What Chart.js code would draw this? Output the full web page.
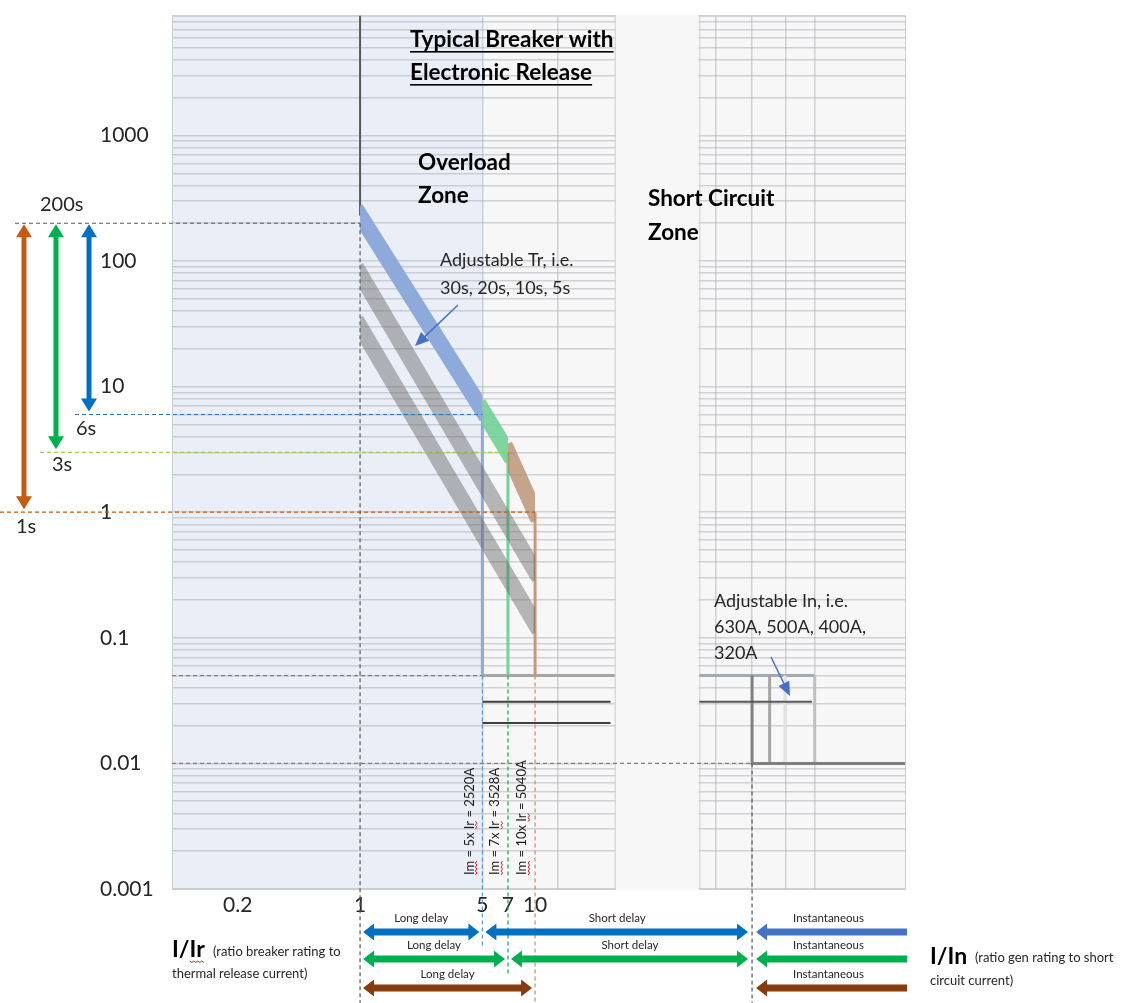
<!DOCTYPE html>
<html>
<head>
<meta charset="utf-8">
<script src="https://cdn.jsdelivr.net/npm/chart.js@4.4.0/dist/chart.umd.min.js"></script>
<style>
  html, body { margin: 0; padding: 0; background: #fff; }
  #wrap { width: 1122px; height: 1003px; position: relative; }
</style>
</head>
<body>
<div id="wrap"><canvas id="myChart"></canvas></div>
<script>
// axis ticks
var xTicks = [0.2, 1, 5, 7, 10];          // I/Ir
var x2Ticks = [5, 7, 10, 30, 70];         // I/In
var yTicks = [0.001, 0.01, 0.1, 1, 10, 100, 1000];
var xGrid = [5, 13.5];
var x2Grid = [6.2, 10, 15.6, 22.9];

// long delay curve (I/Ir -> seconds)
var ldI = [1, 5, 7, 10];
var ldT = [230, 6.5, 3, 1];
// other Tr settings
var trI = [1, 10];
var trT1 = [79, 0.34];
var trT2 = [30, 0.13];

// short delay levels (s) and where they stop (I/Ir)
var sdT = [0.05, 0.031, 0.021];
var sdEnd = [28.5, 27, 27];

// instantaneous (I/In)
var inStart = 5;
var inI = [10, 12.6, 15.4, 22.8];
var inT = [0.05, 0.031, 0.01];
var inEnd = [22.8, 22];

// settings shown by the arrows on the left
var setT = [200, 6, 3, 1];
var setLabel = ['200s', '6s', '3s', '1s'];

var xMin = 0.0842, xMax = 1300;
var x2Min = 0.00485, x2Max = 74.8;
var yMin = 0.001, yMax = 9000;

var FONT = 'Lato, "Open Sans", "DejaVu Sans", sans-serif';
var gridColor = 'rgba(160,162,168,0.45)';
Chart.defaults.font.family = FONT;

function line(xs, ys, color, width, more) {
  var ds = {
    data: xs.map(function (v, i) { return { x: v, y: ys[i] }; }),
    borderColor: color, borderWidth: width, showLine: true,
    pointRadius: 0, fill: false, tension: 0
  };
  for (var k in more) ds[k] = more[k];
  return ds;
}

var datasets = [
  line([ldI[0], ldI[0]], [yMax, ldT[0]], '#595959', 2, { order: 9 }),
  line(trI, trT1, 'rgba(100,100,100,0.45)', 16, { borderCapStyle: 'square', clipX: [trI[0], trI[1]], order: 6 }),
  line(trI, trT2, 'rgba(100,100,100,0.45)', 16, { borderCapStyle: 'square', clipX: [trI[0], trI[1]], order: 6 }),
  line(ldI.slice(0, 2), ldT.slice(0, 2), '#8eaadb', 16, { borderCapStyle: 'square', clipX: [ldI[0], ldI[1]], order: 3 }),
  line(ldI.slice(1, 3), ldT.slice(1, 3), 'rgba(112,208,150,0.9)', 16, { borderCapStyle: 'square', clipX: [ldI[1], ldI[2]], order: 3 }),
  line(ldI.slice(2, 4), ldT.slice(2, 4), 'rgba(178,132,98,0.72)', 16, { borderCapStyle: 'square', clipX: [ldI[2], ldI[3]], order: 3 }),
  line([ldI[1], ldI[1]], [ldT[1], sdT[0]], '#8eaadb', 3, { order: 7 }),
  line([ldI[2], ldI[2]], [ldT[2], sdT[0]], '#6fd39b', 3, { order: 7 }),
  line([ldI[3], ldI[3]], [ldT[3], sdT[0]], '#c49a7c', 3, { order: 7 }),
  line([ldI[1], sdEnd[0]], [sdT[0], sdT[0]], '#a6a6a6', 3, { order: 8 }),
  line([ldI[1], sdEnd[1]], [sdT[1], sdT[1]], '#404040', 2, { order: 8 }),
  line([ldI[1], sdEnd[2]], [sdT[2], sdT[2]], '#404040', 2, { order: 8 }),
  // short circuit zone
  line([inStart, inI[3]], [inT[0], inT[0]], '#a3aab2', 3, { xAxisID: 'x2', order: 8 }),
  line([inStart, inEnd[1]], [inT[1], inT[1]], '#595959', 2, { xAxisID: 'x2', order: 4 }),
  line([inI[3], inI[3]], [inT[0], inT[2]], '#bfbfbf', 3, { xAxisID: 'x2', order: 7 }),
  line([inI[2], inI[2]], [inT[0], inT[2]], '#e2e2e2', 3, { xAxisID: 'x2', order: 7 }),
  line([inI[1], inI[1]], [inT[0], inT[2]], '#a6a6a6', 3, { xAxisID: 'x2', order: 6 }),
  line([inI[0], inI[0], x2Max], [inT[0], inT[2], inT[2]], '#7f7f7f', 3, { xAxisID: 'x2', order: 5 })
];

function dash(ctx, x1, y1, x2, y2, color) {
  ctx.save();
  ctx.strokeStyle = color; ctx.lineWidth = 1.2; ctx.setLineDash([4, 3]);
  ctx.beginPath(); ctx.moveTo(x1, y1); ctx.lineTo(x2, y2); ctx.stroke();
  ctx.restore();
}

function txt(ctx, s, x, y, size, weight, color, align) {
  ctx.font = (weight || 'normal') + ' ' + size + 'px ' + FONT;
  ctx.fillStyle = color || '#262626';
  ctx.textAlign = align || 'left';
  ctx.textBaseline = 'alphabetic';
  ctx.fillText(s, x, y);
  return ctx.measureText(s).width;
}

function under(ctx, s, x, y, size) {
  var w = txt(ctx, s, x, y, size, 'bold', '#000');
  ctx.fillStyle = '#000';
  ctx.fillRect(x, y + 4, w, 1.6);
}

function squiggle(ctx, x, y, w) {
  ctx.save();
  ctx.strokeStyle = '#e02020'; ctx.lineWidth = 1;
  ctx.beginPath(); ctx.moveTo(x, y);
  for (var i = 2; i <= w; i += 2) ctx.lineTo(x + i, y + ((i / 2) % 2 ? 1.5 : 0));
  ctx.stroke();
  ctx.restore();
}

function vArrow(ctx, x, y1, y2, color) {
  ctx.save();
  ctx.fillStyle = color;
  ctx.fillRect(x - 2.5, y1 + 10, 5, y2 - y1 - 20);
  ctx.beginPath();
  ctx.moveTo(x, y1); ctx.lineTo(x - 8, y1 + 13); ctx.lineTo(x + 8, y1 + 13); ctx.closePath();
  ctx.moveTo(x, y2); ctx.lineTo(x - 8, y2 - 13); ctx.lineTo(x + 8, y2 - 13); ctx.closePath();
  ctx.fill();
  ctx.restore();
}

function hArrow(ctx, x1, x2, y, color, headL, headR) {
  ctx.save();
  ctx.fillStyle = color;
  var a = headL ? x1 + 9 : x1, b = headR ? x2 - 9 : x2;
  ctx.fillRect(a, y - 3.5, b - a, 7);
  ctx.beginPath();
  if (headL) { ctx.moveTo(x1, y); ctx.lineTo(x1 + 11, y - 8.5); ctx.lineTo(x1 + 11, y + 8.5); ctx.closePath(); }
  if (headR) { ctx.moveTo(x2, y); ctx.lineTo(x2 - 11, y - 8.5); ctx.lineTo(x2 - 11, y + 8.5); ctx.closePath(); }
  ctx.fill();
  ctx.restore();
}

function pointer(ctx, x1, y1, x2, y2, color) {
  var ang = Math.atan2(y2 - y1, x2 - x1);
  ctx.save();
  ctx.strokeStyle = color; ctx.fillStyle = color; ctx.lineWidth = 1.5;
  ctx.beginPath(); ctx.moveTo(x1, y1);
  ctx.lineTo(x2 - 10 * Math.cos(ang), y2 - 10 * Math.sin(ang)); ctx.stroke();
  ctx.beginPath(); ctx.moveTo(x2, y2);
  ctx.lineTo(x2 - 14 * Math.cos(ang) + 6 * Math.sin(ang), y2 - 14 * Math.sin(ang) - 6 * Math.cos(ang));
  ctx.lineTo(x2 - 14 * Math.cos(ang) - 6 * Math.sin(ang), y2 - 14 * Math.sin(ang) + 6 * Math.cos(ang));
  ctx.closePath(); ctx.fill();
  ctx.restore();
}

var zones = {
  id: 'zones',
  beforeDraw: function (chart) {
    var ctx = chart.ctx, a = chart.chartArea, xs = chart.scales.x;
    ctx.save();
    ctx.fillStyle = '#f7f7f7';
    ctx.fillRect(a.left, a.top, a.right - a.left, a.bottom - a.top);
    ctx.fillStyle = '#e9eef7';
    ctx.fillRect(a.left, a.top, xs.getPixelForValue(ldI[1]) - a.left, a.bottom - a.top);
    ctx.restore();
  },
  beforeDatasetsDraw: function (chart) {
    var ctx = chart.ctx, a = chart.chartArea;
    var l = chart.scales.x.getPixelForValue(sdEnd[0]);
    var r = chart.scales.x2.getPixelForValue(inStart);
    ctx.save();
    ctx.fillStyle = '#f7f7f7';
    ctx.fillRect(l + 1, a.top - 1, r - l - 2, a.bottom - a.top + 2);
    ctx.strokeStyle = '#cdcdcd'; ctx.lineWidth = 1;
    ctx.strokeRect(a.left + 0.5, a.top + 0.5, l - a.left, a.bottom - a.top);
    ctx.strokeRect(r + 0.5, a.top + 0.5, a.right - r, a.bottom - a.top);
    ctx.restore();
  },
  beforeDatasetDraw: function (chart, args) {
    var ds = chart.data.datasets[args.index];
    if (!ds.clipX) return;
    var xs = chart.scales[ds.xAxisID || 'x'], a = chart.chartArea, ctx = chart.ctx;
    var p = xs.getPixelForValue(ds.clipX[0]), q = xs.getPixelForValue(ds.clipX[1]);
    ctx.save();
    ctx.beginPath(); ctx.rect(p, a.top, q - p, a.bottom - a.top); ctx.clip();
  },
  afterDatasetDraw: function (chart, args) {
    if (chart.data.datasets[args.index].clipX) chart.ctx.restore();
  },
  afterDatasetsDraw: function (chart) {
    var ctx = chart.ctx, a = chart.chartArea;
    var xs = chart.scales.x, x2s = chart.scales.x2, ys = chart.scales.y;
    function px(v) { return xs.getPixelForValue(v); }
    function px2(v) { return x2s.getPixelForValue(v); }
    function py(v) { return ys.getPixelForValue(v); }
    var H = chart.height;

    // guides from the Tr settings
    var gColor = ['#595959', '#2e75b6', '#92d050', '#c55a11'];
    var gStart = [15, 75, 40, 0];
    var gEnd = [ldI[0], ldI[1], ldI[2], ldI[3]];
    for (var i = 0; i < setT.length; i++) dash(ctx, gStart[i], py(setT[i]), px(gEnd[i]), py(setT[i]), gColor[i]);
    dash(ctx, a.left, py(sdT[0]), px(ldI[1]), py(sdT[0]), '#7f7f7f');
    dash(ctx, a.left, py(inT[2]), px2(inI[0]), py(inT[2]), '#7f7f7f');
    dash(ctx, px(ldI[0]), py(setT[0]), px(ldI[0]), H, '#595959');
    dash(ctx, px(ldI[1]), py(sdT[0]), px(ldI[1]), 948, '#5b9bd5');
    dash(ctx, px(ldI[2]), py(sdT[0]), px(ldI[2]), 975, '#00b050');
    dash(ctx, px(ldI[3]), py(sdT[0]), px(ldI[3]), H, '#c0906c');
    dash(ctx, px2(inI[0]), py(inT[2]), px2(inI[0]), H, '#595959');

    // setting arrows on the left
    vArrow(ctx, 24, py(setT[0]) + 1, py(setT[3]) - 3, '#c55a11');
    vArrow(ctx, 56, py(setT[0]) + 1, py(setT[2]) - 3, '#00b050');
    vArrow(ctx, 89, py(setT[0]) + 1, py(setT[1]) - 3, '#0070c0');
    txt(ctx, setLabel[0], 40, py(setT[0]) - 12, 20);
    txt(ctx, setLabel[1], 76, py(setT[1]) + 21, 20);
    txt(ctx, setLabel[2], 52, py(setT[2]) + 19, 20);
    txt(ctx, setLabel[3], 16, py(setT[3]) + 21, 20);

    // titles
    under(ctx, 'Typical Breaker with', 410, 47, 22.5);
    under(ctx, 'Electronic Release', 410, 80, 22.5);
    txt(ctx, 'Overload', 418, 170, 22.5, 'bold', '#000');
    txt(ctx, 'Zone', 418, 203, 22.5, 'bold', '#000');
    txt(ctx, 'Short Circuit', 648, 206, 22.5, 'bold', '#000');
    txt(ctx, 'Zone', 648, 240, 22.5, 'bold', '#000');

    txt(ctx, 'Adjustable Tr, i.e.', 440, 266, 18);
    txt(ctx, '30s, 20s, 10s, 5s', 440, 294, 18);
    pointer(ctx, 458, 305, 415, 346, '#4472c4');
    txt(ctx, 'Adjustable In, i.e.', 714, 607, 18);
    txt(ctx, '630A, 500A, 400A,', 714, 633, 18);
    txt(ctx, '320A', 714, 659, 18);
    pointer(ctx, 771, 657, 790, 696, '#4472c4');

    // rotated Im labels
    var imText = ['Im = 5x Ir = 2520A', 'Im = 7x Ir = 3528A', 'Im = 10x Ir = 5040A'];
    for (var j = 0; j < 3; j++) {
      ctx.save();
      ctx.translate(px(ldI[j + 1]) - 13, 875);
      ctx.rotate(-Math.PI / 2);
      ctx.font = '13px ' + FONT;
      ctx.fillStyle = '#1a1a1a'; ctx.textAlign = 'left'; ctx.textBaseline = 'middle';
      ctx.fillText(imText[j], 0, 0);
      var wIm = ctx.measureText('Im').width;
      var pre = ctx.measureText(imText[j].slice(0, imText[j].indexOf('Ir'))).width;
      var wIr = ctx.measureText('Ir').width;
      squiggle(ctx, 0, 6, wIm);
      squiggle(ctx, pre, 6, wIr);
      ctx.restore();
    }

    // delay arrows under the axis
    var rows = [932, 959, 988];
    var colors = ['#0070c0', '#00b050', '#843c0c'];
    var instColors = ['#4472c4', '#00b050', '#843c0c'];
    var split = [ldI[1], ldI[2], ldI[3]];
    var xi = px2(inI[0]);
    for (var r = 0; r < 3; r++) {
      var y = rows[r], xs1 = px(ldI[0]), xe = px(split[r]);
      hArrow(ctx, xs1 + 3, xe - 3, y, colors[r], true, true);
      txt(ctx, 'Long delay', (xs1 + xe) / 2, y - 10, 11.5, 'normal', '#262626', 'center');
      if (r < 2) {
        hArrow(ctx, xe + 3, xi - 4, y, colors[r], true, true);
        txt(ctx, 'Short delay', (xe + xi) / 2, y - 10, 11.5, 'normal', '#262626', 'center');
      }
      hArrow(ctx, xi + 4, a.right + 2, y, instColors[r], true, false);
      txt(ctx, 'Instantaneous', (xi + a.right) / 2, y - 10, 11.5, 'normal', '#262626', 'center');
    }

    // axis titles
    var w1 = txt(ctx, 'I/Ir', 172, 957, 23, 'bold', '#000');
    squiggle(ctx, 172 + w1 - 15, 961, 15);
    txt(ctx, '(ratio breaker rating to', 213, 956, 13);
    txt(ctx, 'thermal release current)', 172, 978, 13);
    txt(ctx, 'I/In', 930, 964, 23, 'bold', '#000');
    txt(ctx, '(ratio gen rating to short', 975, 962, 13);
    txt(ctx, 'circuit current)', 930, 985, 13);
  }
};

function uniq(arr) {
  return arr.filter(function (v, i) { return arr.indexOf(v) === i; }).sort(function (p, q) { return p - q; });
}

new Chart('myChart', {
  type: 'scatter',
  data: { datasets: datasets },
  options: {
    responsive: true,
    maintainAspectRatio: false,
    animation: false,
    devicePixelRatio: 1,
    layout: { padding: { left: 100, right: 217, top: 12, bottom: 84 } },
    plugins: { legend: { display: false }, tooltip: { enabled: false } },
    scales: {
      x: {
        type: 'logarithmic', position: 'bottom', weight: 1, min: xMin, max: xMax,
        afterBuildTicks: function (s) { s.ticks = uniq(xTicks.concat(xGrid)).map(function (v) { return { value: v }; }); },
        afterFit: function (s) { s.height = 30; },
        border: { display: false },
        grid: { drawTicks: false, lineWidth: 1.5, color: function (c) { return c.tick && xGrid.indexOf(c.tick.value) >= 0 ? gridColor : 'rgba(0,0,0,0)'; } },
        ticks: { autoSkip: false, maxRotation: 0, padding: 4, color: '#262626', font: { size: 21 },
          callback: function (v) { return xTicks.indexOf(v) >= 0 ? String(v) : ''; } }
      },
      x2: {
        type: 'logarithmic', position: 'bottom', weight: -1, min: x2Min, max: x2Max,
        afterBuildTicks: function (s) { s.ticks = uniq(x2Ticks.concat(x2Grid)).map(function (v) { return { value: v }; }); },
        afterFit: function (s) { s.height = 0; },
        border: { display: false },
        grid: { drawTicks: false, lineWidth: 1.5, color: function (c) { return c.tick && x2Grid.indexOf(c.tick.value) >= 0 ? gridColor : 'rgba(0,0,0,0)'; } },
        ticks: { autoSkip: false, maxRotation: 0, padding: 4, color: '#262626', font: { size: 21 },
          callback: function (v) { return x2Ticks.indexOf(v) >= 0 ? String(v) : ''; } }
      },
      y: {
        type: 'logarithmic', min: yMin, max: yMax,
        afterBuildTicks: function (s) {
          var t = [];
          yTicks.forEach(function (d) { for (var m = 1; m < 10; m++) t.push({ value: d * m, isMain: m === 1 }); });
          s.ticks = t;
        },
        afterFit: function (s) { s.width = 72; },
        border: { display: false },
        grid: { drawTicks: false, lineWidth: 1.5, color: gridColor },
        ticks: { autoSkip: false, crossAlign: 'far', color: '#262626', font: { size: 21 },
          callback: function (v, i, t) { return t[i].isMain ? String(v) : ''; } }
      }
    }
  },
  plugins: [zones]
});
</script>
</body>
</html>
